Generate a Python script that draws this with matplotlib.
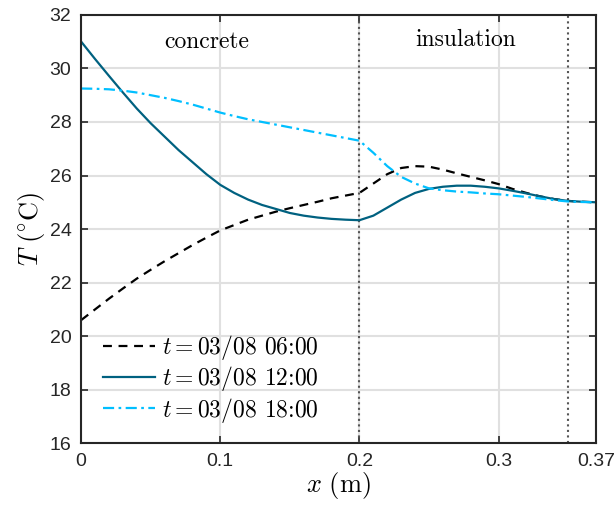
import numpy as np
import matplotlib
matplotlib.use("Agg")
import matplotlib.pyplot as plt

plt.rcParams['font.family'] = ['Liberation Sans', 'DejaVu Sans']
plt.rcParams['mathtext.fontset'] = 'cm'

# positions through the wall (m)
x = [0.0, 0.01, 0.02, 0.03, 0.04, 0.05, 0.06, 0.07, 0.08, 0.09, 0.1,
     0.11, 0.12, 0.13, 0.14, 0.15, 0.16, 0.17, 0.18, 0.19, 0.2,
     0.21, 0.22, 0.23, 0.24, 0.25, 0.26, 0.27, 0.28, 0.29, 0.3,
     0.31, 0.32, 0.33, 0.34, 0.35, 0.36, 0.37]

# temperature profiles (degC)
t_0600 = [20.6, 21.0, 21.4, 21.78, 22.15, 22.48, 22.8, 23.1, 23.4, 23.68, 23.95,
          24.15, 24.35, 24.5, 24.65, 24.78, 24.9, 25.02, 25.15, 25.25, 25.35,
          25.7, 26.05, 26.28, 26.35, 26.33, 26.22, 26.08, 25.95, 25.82, 25.68,
          25.5, 25.35, 25.22, 25.12, 25.05, 25.02, 25.0]
t_1200 = [31.0, 30.35, 29.72, 29.1, 28.5, 27.95, 27.45, 26.95, 26.5, 26.05, 25.65,
          25.35, 25.1, 24.9, 24.75, 24.6, 24.5, 24.43, 24.38, 24.35, 24.33,
          24.5, 24.8, 25.1, 25.35, 25.5, 25.58, 25.62, 25.62, 25.58, 25.52,
          25.43, 25.33, 25.22, 25.12, 25.05, 25.02, 25.0]
t_1800 = [29.25, 29.24, 29.22, 29.17, 29.1, 29.0, 28.9, 28.78, 28.65, 28.5, 28.35,
          28.22, 28.1, 28.0, 27.9, 27.8, 27.7, 27.6, 27.5, 27.4, 27.3,
          26.85, 26.35, 25.95, 25.7, 25.52, 25.45, 25.4, 25.37, 25.33, 25.3,
          25.25, 25.2, 25.14, 25.08, 25.03, 25.01, 25.0]

labels = ['03/08 06:00', '03/08 12:00', '03/08 18:00']
layer_bounds = [0.2, 0.35]
xticks = [0, 0.1, 0.2, 0.3, 0.37]
xtick_labels = ['0', '0.1', '0.2', '0.3', '0.37']
yticks = [16, 18, 20, 22, 24, 26, 28, 30, 32]

fig = plt.figure(figsize=(6.15, 5.13), dpi=100)
ax = fig.add_axes([0.132, 0.136, 0.837, 0.835])

ax.grid(True, color='#e0e0e0', linewidth=1.5)
ax.set_axisbelow(True)

for xb in layer_bounds:
    ax.axvline(xb, color='#555555', linestyle=':', linewidth=1.5, zorder=1.5)

ax.plot(x, t_0600, color='black', linestyle=(0, (4, 3)), linewidth=1.6,
        label=r'$t=$' + labels[0])
ax.plot(x, t_1200, color='#006180', linestyle='-', linewidth=1.6,
        label=r'$t=$' + labels[1])
ax.plot(x, t_1800, color='#00bfff', linestyle=(0, (5, 2, 1.2, 2)), linewidth=1.6,
        label=r'$t=$' + labels[2])

ax.text(0.09, 31.0, 'concrete', family='cmr10', fontsize=17, ha='center', va='center')
ax.text(0.276, 31.05, 'insulation', family='cmr10', fontsize=17, ha='center', va='center')

ax.set_xlim(0, 0.37)
ax.set_ylim(16, 32)
ax.set_xticks(xticks)
ax.set_xticklabels(xtick_labels)
ax.set_yticks(yticks)
ax.tick_params(direction='in', length=5, width=1.2, labelsize=14, top=True,
               right=True, colors='#262626', pad=7)
for sp in ax.spines.values():
    sp.set_linewidth(1.5)
    sp.set_color('#262626')

ax.set_xlabel(r'$x\ (\mathrm{m})$', fontsize=19, labelpad=0)
ax.set_ylabel(r'$T\ (^{\circ}\mathrm{C})$', fontsize=19, labelpad=2)

ax.legend(loc='lower left', frameon=False, prop={'family': 'cmr10', 'size': 17},
          handlelength=2.2, handletextpad=0.3, labelspacing=0.1,
          borderaxespad=0.3, bbox_to_anchor=(0.01, 0.005))

fig.savefig('out.png', dpi=100)
